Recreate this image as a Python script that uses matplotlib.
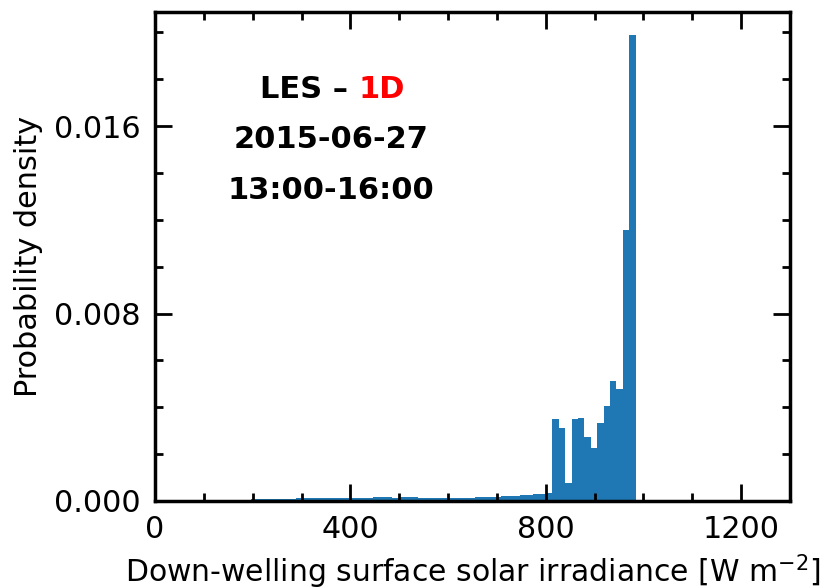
import matplotlib.pyplot as plt
import numpy as np

# histogram of down-welling surface solar irradiance, 75 equal bins from 0 to 984 W m-2
bin_lo = 0.0
bin_hi = 984.0
n_bins = 75

# probability density per bin (low-irradiance tail, then the clear-sky peak region)
empty_bins = [0.0] * 14
tail_density = [
    0.00006, 0.00007, 0.00008, 0.00008, 0.00009, 0.00009, 0.00010,
    0.00010, 0.00011, 0.00011, 0.00011, 0.00012, 0.00012, 0.00012, 0.00013, 0.00013, 0.00013,
    0.00014, 0.00014, 0.00014, 0.00015, 0.00015, 0.00015, 0.00014, 0.00015, 0.00015, 0.00015,
    0.00014, 0.00014, 0.00014, 0.00013, 0.00013,
    0.00013, 0.00013, 0.00014, 0.00014, 0.00015, 0.00016,
    0.00018, 0.00019, 0.00020, 0.00021, 0.00022,
    0.00024, 0.00026, 0.00028, 0.00031, 0.00035,
]
peak_density = [
    0.00350, 0.00312, 0.00077, 0.00349, 0.00356, 0.00275, 0.00228,
    0.00332, 0.00405, 0.00514, 0.00477, 0.01158, 0.01988,
]
density = empty_bins + tail_density + peak_density

x_ticks = [0, 400, 800, 1200]
y_ticks = [0.000, 0.008, 0.016]

edges = np.linspace(bin_lo, bin_hi, n_bins + 1)

plt.rcParams['font.family'] = 'DejaVu Sans'
fig = plt.figure(figsize=(8.32, 5.88), dpi=100)
ax = fig.add_axes([0.1863, 0.148, 0.7632, 0.8316])

ax.hist(edges[:-1], bins=edges, weights=density, histtype='stepfilled', color='#1f77b4')

ax.set_xlim(0, 1300)
ax.set_xticks(x_ticks)
ax.set_xticks(np.arange(0, 1301, 100), minor=True)
ax.set_yticks(y_ticks)
ax.set_yticks(np.arange(0, 0.0209, 0.002), minor=True)
ax.set_yticklabels(['%.3f' % v for v in y_ticks])

ax.tick_params(which='both', direction='in', top=True, right=True, labelsize=21.8, width=2)
ax.tick_params(which='major', length=12, pad=10)
ax.tick_params(which='minor', length=6)
for sp in ax.spines.values():
    sp.set_linewidth(2.5)

ax.set_xlabel('Down-welling surface solar irradiance [W m$^{-2}$]', fontsize=21.5, labelpad=6)
ax.set_ylabel('Probability density', fontsize=21.8, labelpad=8)

# title block inside the axes
bold = dict(fontsize=22, fontweight='bold', transform=ax.transAxes, va='baseline')
ax.text(0.32, 0.824, 'LES – ', ha='right', color='black', **bold)
ax.text(0.32, 0.824, '1D', ha='left', color='red', **bold)
ax.text(0.277, 0.722, '2015-06-27', ha='center', color='black', **bold)
ax.text(0.277, 0.618, '13:00-16:00', ha='center', color='black', **bold)

fig.savefig('out.png', dpi=100)
